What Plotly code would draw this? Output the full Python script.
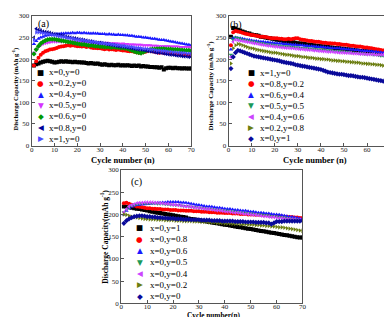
import plotly.graph_objects as go

W, H = 392, 317
cycles = list(range(1, 71))

# ---------------- Panel (a) ----------------
a_labels = ["x=0,y=0", "x=0.2,y=0", "x=0.4,y=0", "x=0.5,y=0", "x=0.6,y=0", "x=0.8,y=0", "x=1,y=0"]
a_x00 = [185,188,190,192,194,195,196,195,194,192, 193,194,195,194,195,194,194,193,194,193,
         193,192,192,191,190,191,190,189,190,188, 187,188,187,186,187,186,186,187,185,186,
         185,186,185,184,185,184,185,183,184,183, 183,182,182,181,181,180,181,176,179,180,
         180,179,180,179,179,178,179,178,178,178]
a_x02 = [185,195,203,210,215,218,220,222,223,224, 226,228,229,230,231,232,231,232,231,230,
         230,229,230,228,229,227,226,226,225,225, 224,223,224,222,223,222,221,222,221,220,
         220,219,218,218,217,216,215,215,216,217, 219,220,218,217,216,215,216,214,215,214,
         213,213,212,212,211,211,210,210,209,209]
a_x04 = [235,242,247,250,252,254,255,256,257,257, 258,258,259,259,260,260,260,261,260,261,
         261,260,261,260,260,259,260,259,259,258, 258,258,257,258,257,257,256,257,256,256,
         255,255,254,254,253,252,252,251,250,250, 249,248,247,247,246,245,244,244,243,242,
         241,240,239,238,237,236,235,234,233,232]
a_x05 = [215,222,228,232,235,237,238,239,240,240, 240,241,240,241,240,240,240,241,240,240,
         239,240,239,239,238,239,238,238,237,238, 237,237,238,237,236,237,236,236,235,236,
         235,235,234,234,234,233,233,233,232,232, 232,232,231,231,231,230,230,230,230,230,
         229,229,229,229,228,228,228,228,228,227]
a_x06 = [212,222,230,236,240,243,245,246,246,246, 245,244,243,242,241,240,239,238,237,236,
         235,234,234,233,232,232,231,230,230,229, 229,228,228,228,227,228,227,227,226,226,
         225,224,222,220,218,216,215,214,216,219, 221,222,223,223,224,224,224,224,223,223,
         223,222,222,222,221,221,220,220,220,219]
a_x08 = [250,270,268,266,264,263,262,261,259,258, 257,256,255,254,252,251,250,249,248,247,
         246,245,244,243,242,241,240,239,238,238, 237,236,235,234,233,232,231,230,229,229,
         228,227,226,225,224,223,222,222,221,220, 219,218,217,216,215,215,214,213,212,211,
         210,210,209,208,208,207,206,206,205,205]
a_x10 = [245,262,262,261,260,259,258,257,256,255, 254,253,252,251,250,249,248,247,246,245,
         244,244,243,242,241,240,240,239,238,237, 237,236,235,235,234,233,232,232,231,230,
         230,229,228,228,227,226,226,225,224,224, 223,222,222,221,220,220,219,219,218,217,
         217,216,216,215,215,214,214,213,213,212]

# ---------------- Panel (b) ----------------
b_labels = ["x=1,y=0", "x=0.8,y=0.2", "x=0.6,y=0.4", "x=0.5,y=0.5", "x=0.4,y=0.6", "x=0.2,y=0.8", "x=0,y=1"]
b_x10 = [252,272,271,268,266,264,262,260,259,257, 256,255,254,252,251,250,249,248,247,246,
         245,244,243,242,241,241,240,239,238,237, 236,236,235,234,233,233,232,231,231,230,
         229,229,228,227,227,226,225,225,224,224, 223,222,222,221,220,220,219,219,218,218,
         217,217,216,216,215,215,215,214,214,214]
b_x08 = [232,262,265,264,263,261,259,258,257,256, 255,254,253,252,252,251,250,249,248,248,
         248,247,247,246,246,247,246,247,248,248, 246,245,244,243,242,242,241,240,240,239,
         238,238,237,237,236,236,235,235,234,233, 233,232,231,231,230,229,229,228,227,227,
         226,225,224,223,222,221,220,219,218,217]
b_x06 = [222,248,250,249,248,247,246,245,244,243, 242,242,241,240,240,239,239,238,238,237,
         237,236,236,235,235,234,234,233,233,232, 232,232,231,231,230,230,229,229,228,228,
         228,227,227,226,226,225,225,225,224,224, 223,223,222,222,221,221,220,220,219,219,
         218,218,217,217,216,216,215,215,214,214]
b_x05 = [210,245,250,249,247,245,244,243,242,241, 240,239,238,237,236,235,234,233,233,232,
         231,231,230,230,229,229,228,228,227,227, 226,226,225,225,224,224,223,223,222,222,
         221,221,220,220,219,219,218,218,217,217, 216,216,215,215,214,214,213,213,212,212,
         211,211,210,210,209,208,208,207,207,206]
b_x04 = [205,240,245,244,243,242,241,240,239,238, 237,236,235,234,233,232,231,231,230,229,
         229,228,227,227,226,226,225,225,224,224, 223,223,222,222,221,221,220,220,219,219,
         218,218,217,217,217,216,216,215,215,215, 214,214,214,213,213,213,212,212,212,211,
         211,211,211,210,210,210,210,209,209,209]
b_x02 = [190,225,232,235,234,232,230,228,226,225, 224,222,221,220,219,218,217,216,215,215,
         214,213,212,211,210,210,209,208,207,207, 206,205,205,204,203,203,202,201,201,200,
         200,199,199,198,197,197,196,196,195,195, 194,194,193,193,192,192,191,190,190,189,
         189,188,188,187,187,186,185,185,184,183]
b_x00 = [178,205,215,220,219,217,215,213,211,209, 207,206,205,204,203,202,201,200,199,198,
         197,196,194,193,192,191,190,189,187,186, 185,184,183,182,181,180,179,178,177,176,
         174,172,170,169,168,167,166,165,165,164, 163,162,162,161,160,159,158,158,157,156,
         155,154,153,152,151,150,149,148,147,147]

# ---------------- Panel (c) ----------------
c_labels = ["x=0,y=1", "x=0,y=0.8", "x=0,y=0.6", "x=0,y=0.5", "x=0,y=0.4", "x=0,y=0.2", "x=0,y=0"]
c_y10 = [218,217,216,215,214,213,212,211,210,209, 207,206,205,204,203,202,201,200,199,198,
         197,196,195,194,193,191,190,189,188,187, 186,185,184,183,182,181,180,179,178,177,
         176,175,174,173,172,171,170,169,168,167, 166,165,164,163,162,161,160,159,158,157,
         156,155,154,153,152,151,150,149,148,148]
c_y08 = [225,226,224,222,220,218,217,216,215,214, 214,213,213,212,212,211,211,211,210,210,
         210,209,209,209,208,208,208,207,207,207, 206,206,206,205,205,205,204,204,204,203,
         203,203,202,202,202,201,201,201,200,200, 200,199,199,199,198,198,198,197,197,197,
         196,196,195,195,194,194,193,193,192,192]
c_y06 = [200,208,214,218,220,221,222,223,223,224, 224,225,225,226,226,227,227,228,228,228,
         228,228,227,227,226,225,224,223,222,221, 220,219,218,218,217,216,215,215,214,213,
         212,212,211,210,210,209,208,208,207,206, 206,205,204,204,203,202,202,201,200,200,
         199,198,197,196,195,194,193,192,191,190]
c_y05 = [205,212,217,220,222,223,224,225,225,225, 225,225,225,224,224,224,223,223,222,222,
         221,221,220,219,219,218,217,216,216,215, 214,214,213,212,212,211,210,210,209,208,
         208,207,206,206,205,204,204,203,202,202, 201,200,200,199,198,198,197,196,196,195,
         194,193,193,192,191,190,189,188,187,186]
c_y04 = [205,212,218,221,223,225,226,226,227,227, 227,227,226,226,225,225,224,224,223,222,
         222,221,220,219,218,218,217,216,215,215, 214,213,212,212,211,210,209,209,208,207,
         206,206,205,204,204,203,202,201,201,200, 199,199,198,197,196,196,195,194,194,193,
         192,192,191,190,190,189,189,188,188,188]
c_y02 = [200,199,197,195,194,193,192,191,190,190, 189,189,189,188,188,188,187,187,187,187,
         186,186,186,185,185,185,185,184,184,184, 183,183,183,182,182,182,181,181,181,180,
         180,180,179,179,179,178,178,178,177,177, 177,176,176,175,175,174,174,173,173,172,
         171,171,170,169,168,167,166,165,164,163]
c_y00 = [180,186,190,193,195,196,197,197,196,195, 195,194,194,193,193,192,192,191,191,191,
         190,190,190,189,189,189,188,188,188,188, 187,187,187,187,186,186,186,186,185,185,
         185,185,185,184,184,184,184,183,183,183, 183,182,182,182,182,181,181,178,181,184,
         184,184,185,185,185,185,185,185,185,186]

x_ticks = [0, 10, 20, 30, 40, 50, 60, 70]
y_ticks = [0, 50, 100, 150, 200, 250, 300]

# styles
a_series = [a_x00, a_x02, a_x04, a_x05, a_x06, a_x08, a_x10]
a_colors = ["#000000", "#ff0000", "#1a1aff", "#d633ff", "#009900", "#000099", "#4a4aff"]
a_symbols = ["square", "circle", "triangle-up", "triangle-down", "diamond", "triangle-left", "triangle-right"]
a_glyphs = ["■", "●", "▲", "▼", "◆", "◀", "▶"]

b_series = [b_x10, b_x08, b_x06, b_x05, b_x04, b_x02, b_x00]
b_colors = ["#000000", "#ff0000", "#1a1aff", "#1a9a5a", "#cc44ff", "#6b7d10", "#0a0a9a"]
b_symbols = ["square", "circle", "triangle-up", "triangle-down", "triangle-left", "triangle-right", "diamond"]
b_glyphs = ["■", "●", "▲", "▼", "◀", "▶", "◆"]

c_series = [c_y10, c_y08, c_y06, c_y05, c_y04, c_y02, c_y00]
c_colors = b_colors
c_symbols = b_symbols
c_glyphs = b_glyphs

SERIF = "Liberation Serif"

fig = go.Figure()

def add_panel(series, colors, symbols, labels, xa, ya):
    for s, col, sym, lab in zip(series, colors, symbols, labels):
        fig.add_trace(go.Scatter(
            x=cycles, y=s, mode="markers", name=lab, showlegend=False,
            marker=dict(symbol=sym, size=4, color=col, line=dict(width=0)),
            xaxis=xa, yaxis=ya))

add_panel(a_series, a_colors, a_symbols, a_labels, "x", "y")
add_panel(b_series, b_colors, b_symbols, b_labels, "x2", "y2")
add_panel(c_series, c_colors, c_symbols, c_labels, "x3", "y3")

def px(x):
    return x / W

def py(y):
    return 1 - y / H

def xaxis_cfg(x0, x1, anchor, standoff=-3):
    return dict(domain=[px(x0), px(x1)], range=[0, 70], tickvals=x_ticks,
                showgrid=False, zeroline=False, showline=True, mirror=True,
                linecolor="#555555", linewidth=1, ticks="inside", ticklen=3,
                tickcolor="#555555", tickfont=dict(family=SERIF, size=7, color="#222"),
                ticklabelstandoff=standoff, anchor=anchor)

def yaxis_cfg(y0, y1, anchor):
    return dict(domain=[py(y1), py(y0)], range=[0, 300], tickvals=y_ticks,
                showgrid=False, zeroline=False, showline=True, mirror=True,
                linecolor="#555555", linewidth=1, ticks="inside", ticklen=3,
                tickcolor="#555555", tickfont=dict(family=SERIF, size=7, color="#222"),
                anchor=anchor)

fig.update_layout(
    width=W, height=H, margin=dict(l=0, r=0, t=0, b=0),
    paper_bgcolor="white", plot_bgcolor="white", showlegend=False,
    xaxis=xaxis_cfg(22, 184, "y"),
    yaxis=yaxis_cfg(4, 137, "x"),
    xaxis2=xaxis_cfg(222, 386, "y2"),
    yaxis2=yaxis_cfg(4, 137, "x2"),
    xaxis3=xaxis_cfg(113, 297, "y3", standoff=-4),
    yaxis3=yaxis_cfg(162, 299, "x3"),
)

annotations = []

def add_text(text, x, y, size, angle=0, anchor="center", color="#000", family=SERIF):
    annotations.append(dict(x=px(x), y=py(y), xref="paper", yref="paper", text=text,
                            showarrow=False, xanchor=anchor, yanchor="middle",
                            textangle=angle, font=dict(family=family, size=size, color=color)))

def add_legend(labels, colors, glyphs, gx, tx, y0, dy):
    for i, (lab, col, g) in enumerate(zip(labels, colors, glyphs)):
        yc = y0 + i * dy
        add_text(g, gx, yc, 7.5, color=col, family="DejaVu Sans")
        add_text(lab, tx, yc, 9, anchor="left")

add_legend(a_labels, a_colors, a_glyphs, 31, 38, 62, 11.3)
add_legend(b_labels, b_colors, b_glyphs, 245, 252, 62.5, 11.2)
add_legend(c_labels, c_colors, c_glyphs, 132, 140, 221.5, 11.7)

# panel labels
add_text("(a)", 34, 12, 10)
add_text("(b)", 230, 13, 10)
add_text("(c)", 128, 174, 10)

# axis titles
add_text("<b>Cycle number (n)</b>", 114.5, 152, 8.5)
add_text("<b>Cycle number (n)</b>", 310, 152, 8.5)
add_text("<b>Cycle number(n)</b>", 206.5, 311.5, 7.3)
add_text("<b>Discharge Capacity (mAh g<sup>-1</sup>)</b>", 5.5, 79, 6.5, angle=-90)
add_text("<b>Discharge Capacity (mAh g<sup>-1</sup>)</b>", 203.5, 75, 7, angle=-90)
add_text("<b>Discharge Capacity(mAh g<sup>-1</sup>)</b>", 96, 231, 7.5, angle=-90)

fig.update_layout(annotations=annotations)

fig.write_html("out.html")
